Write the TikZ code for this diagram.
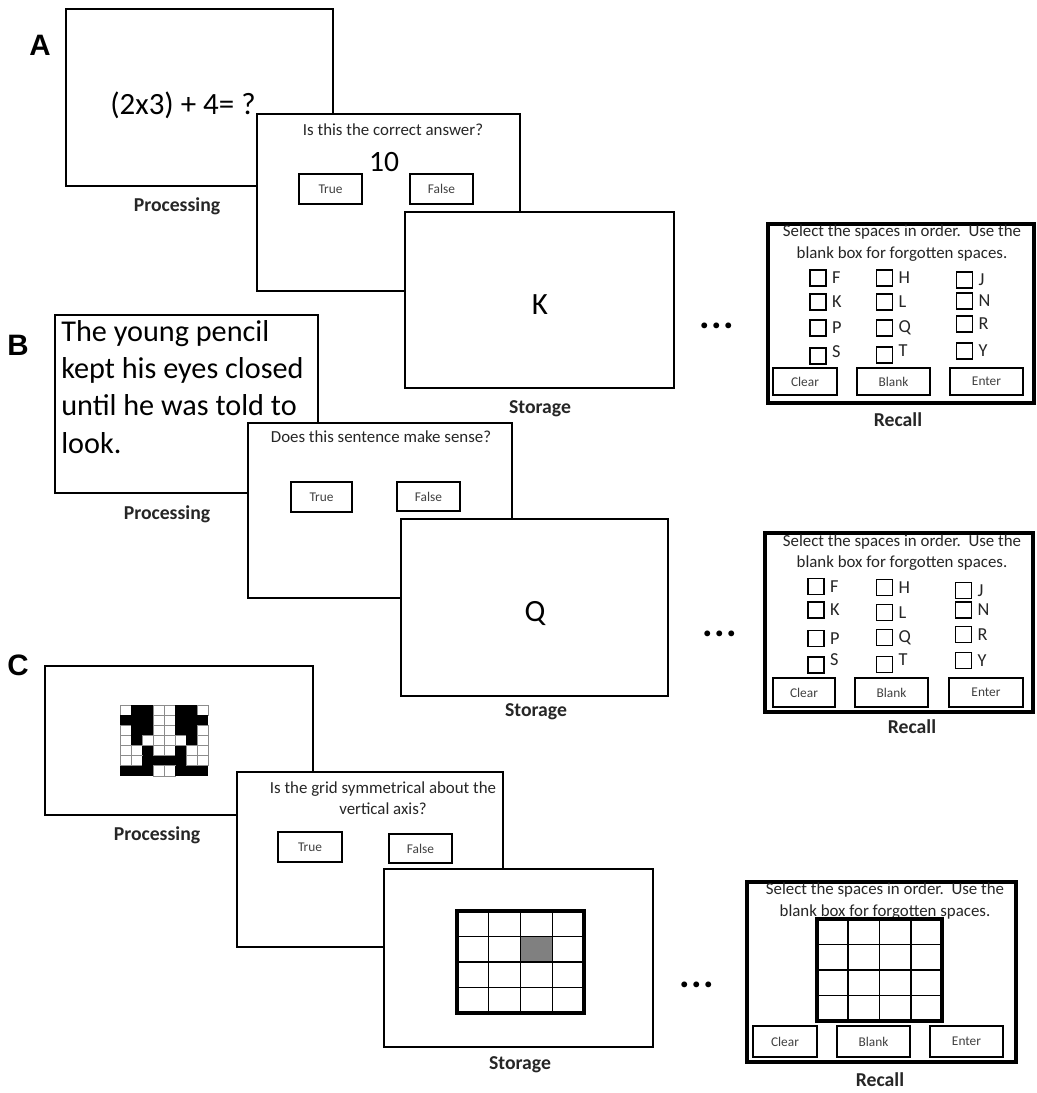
\documentclass[tikz,border=0pt]{standalone}
\usepackage{fontspec}
\setmainfont{Carlito}
\newfontfamily\panelfont{Liberation Sans}
\usetikzlibrary{positioning}
\newcommand{\pxl}{0.025cm}
\tikzset{
  screen/.style 2 args={draw, line width=2pt, fill=white, inner sep=0pt,
    minimum width=#1*\pxl, minimum height=#2*\pxl},
  recallbox/.style 2 args={screen={#1}{#2}, line width=2.6pt},
  button/.style 2 args={draw, line width=1.1pt, fill=white, inner sep=0pt,
    minimum width=#1*\pxl, minimum height=#2*\pxl, text=black!75,
    font=\fontsize{9.5}{11}\selectfont},
  chk/.style={draw, line width=1pt, inner sep=0pt, minimum size=16*\pxl},
  letter/.style={inner sep=0pt, font=\fontsize{13}{15}\selectfont, text=black!85},
  caption/.style={inner sep=0pt, font=\bfseries\fontsize{14}{16}\selectfont, text=black!85},
  prompt/.style={inner sep=0pt, align=center, font=\fontsize{12}{15.5}\selectfont, text=black!85},
  bigtext/.style={inner sep=0pt, font=\fontsize{22}{26}\selectfont},
  panel/.style={inner sep=0pt, font=\panelfont\bfseries\fontsize{21}{24}\selectfont},
  dots/.style={inner sep=0pt, font=\bfseries\fontsize{28}{30}\selectfont},
  cellline/.style={draw=black!45, line width=0.6pt},
}

\begin{document}
\begin{tikzpicture}[x=0.025cm, y=-0.025cm]
  \useasboundingbox (0,0) rectangle (1037,1093);

  % ---------- A: operation span ----------
  \node[panel] (labA) at (40,45) {A};
  \node[screen={267}{177}] (procA) at (199.5,97.5) {};
  \node[bigtext] (eqA) at (183,105) {(2x3) + 4= ?};
  \node[caption] (procLabA) at (177,206) {Processing};

  \node[screen={263}{177}] (qA) at (388.5,202.5) {};
  \node[prompt] (askA) at (393,130) {Is this the correct answer?};
  \node[inner sep=0pt, font=\fontsize{21}{24}\selectfont] (ansA) at (384,162) {10};
  \node[button={63}{30}] (trueA) at (330.5,189) {True};
  \node[button={63}{30}] (falseA) at (441.5,189) {False};

  \node[screen={269}{176}] (storA) at (539.5,300) {};
  \node[bigtext] (itemA) at (540,305) {K};
  \node[caption] (storLabA) at (540,409) {Storage};

  \node[dots] (dotsA) at (717,326) {.\hspace{1pt}.\hspace{1pt}.};

  \node[recallbox={266}{179}] (recA) at (901,313.5) {};
  \node[prompt] (instrA) at (902,243) {Select the spaces in order.\ \ Use the\\blank box for forgotten spaces.};
  \foreach \lt/\x/\y/\dy in {F/818/278/0, K/818/302/0, P/818/328/0, S/818/356/-4,
                             H/884.5/278/0, L/884.5/302/0, Q/884.5/328/0, T/884.5/355/-4,
                             J/964.5/280/0, N/964.5/301/0, R/964.5/324/0, Y/964.5/351/0}
  {
    \node[chk] (chkA\lt) at (\x,\y) {};
    \node[letter, right=0.13cm of chkA\lt, yshift=-\dy*\pxl] (ltrA\lt) {\lt};
  }
  \node[button={64}{27}] (clearA) at (805,381.5) {Clear};
  \node[button={73}{27}] (blankA) at (893.5,381.5) {Blank};
  \node[button={73}{27}] (enterA) at (986.5,381.5) {Enter};
  \node[caption] (recLabA) at (898,420) {Recall};

  % ---------- B: reading span ----------
  \node[panel] (labB) at (18,345) {B};
  \node[screen={263}{178}] (procB) at (186.5,404) {};
  \node[anchor=north west, align=left, inner sep=0pt,
        font=\fontsize{21.5}{26.5}\selectfont] (sentB) at (61,320)
        {The young pencil\\kept his eyes closed\\until he was told to\\look.};
  \node[caption] (procLabB) at (167,514) {Processing};

  \node[screen={264}{175}] (qB) at (380,510.5) {};
  \node[prompt] (askB) at (381,437) {Does this sentence make sense?};
  \node[button={61}{30}] (trueB) at (321.5,497) {True};
  \node[button={63}{29}] (falseB) at (428.5,496.5) {False};

  \node[screen={267}{177}] (storB) at (534.5,607.5) {};
  \node[bigtext] (itemB) at (535,613) {Q};
  \node[caption] (storLabB) at (536,712) {Storage};

  \node[dots] (dotsB) at (720,634) {.\hspace{1pt}.\hspace{1pt}.};

  \node[recallbox={268}{179}] (recB) at (899,622.5) {};
  \node[prompt] (instrB) at (902,552.5) {Select the spaces in order.\ \ Use the\\blank box for forgotten spaces.};
  \foreach \lt/\x/\y/\dy in {F/816/586.5/0, K/816/610/0, P/816/638.5/0, S/816/665/-5,
                             H/884.5/587.5/0, L/884.5/612.5/0, Q/884.5/637.5/0, T/884.5/664.5/-5,
                             J/963.5/590.5/0, N/963.5/610/0, R/963.5/634.5/0, Y/963.5/660.5/0}
  {
    \node[chk] (chkB\lt) at (\x,\y) {};
    \node[letter, right=0.13cm of chkB\lt, yshift=-\dy*\pxl] (ltrB\lt) {\lt};
  }
  \node[button={62}{29}] (clearB) at (804,692.5) {Clear};
  \node[button={73}{29}] (blankB) at (891.5,692.5) {Blank};
  \node[button={74}{29}] (enterB) at (986,692.5) {Enter};
  \node[caption] (recLabB) at (912,727) {Recall};

  % ---------- C: symmetry span ----------
  \node[panel] (labC) at (18,665) {C};
  \node[screen={268}{149}] (procC) at (179,740.5) {};
  \foreach \cells [count=\r] in {{0,1,1,0,0,1,1,0},{1,1,1,0,0,1,1,1},
                                 {0,1,1,0,0,1,1,0},{0,1,0,0,0,0,1,0},
                                 {0,0,1,0,0,1,0,0},{0,0,1,1,1,1,0,0},
                                 {1,1,1,0,0,1,1,1}}
  {
    \foreach \v [count=\k] in \cells
    {
      \ifnum\v=1
        \fill (109+\k*11, 694.86+\r*10.14) rectangle ++(11,10.14);
      \else
        \draw[cellline] (109+\k*11, 694.86+\r*10.14) rectangle ++(11,10.14);
      \fi
    }
  }
  \node[caption] (procLabC) at (157,835) {Processing};

  \node[screen={266}{175}] (qC) at (370,859.5) {};
  \node[prompt, font=\fontsize{12}{14.5}\selectfont] (askC) at (383,798)
        {Is the grid symmetrical about the\\vertical axis?};
  \node[button={64}{30}] (trueC) at (310,847) {True};
  \node[button={63}{29}] (falseC) at (420.5,848.5) {False};

  \node[screen={269}{178}] (storC) at (518.5,958) {};
  % storage grid, one cell shaded
  \fill[black!50] (520.5,936.5) rectangle (552.25,962);
  \foreach \i in {1,2,3}
  {
    \draw[line width=1pt] (457+\i*31.75,911) -- (457+\i*31.75,1013);
    \draw[line width=1pt] (457,911+\i*25.5) -- (584,911+\i*25.5);
  }
  \draw[line width=2.2pt] (457,911) rectangle (584,1013);
  \node[caption] (storLabC) at (520,1065) {Storage};

  \node[dots] (dotsC) at (697,985) {.\hspace{1pt}.\hspace{1pt}.};

  \node[recallbox={269}{180}] (recC) at (881.5,972) {};
  \node[prompt] (instrC) at (885,901) {Select the spaces in order.\ \ Use the\\blank box for forgotten spaces.};
  \foreach \i in {1,2,3}
  {
    \draw[line width=1.3pt] (817+\i*31.25,919) -- (817+\i*31.25,1021);
    \draw[line width=1.3pt] (817,919+\i*25.5) -- (942,919+\i*25.5);
  }
  \draw[line width=2.4pt] (817,919) rectangle (942,1021);
  \node[button={64}{31}] (clearC) at (785,1041.5) {Clear};
  \node[button={73}{31}] (blankC) at (873.5,1041.5) {Blank};
  \node[button={73}{31}] (enterC) at (966.5,1041.5) {Enter};
  \node[caption] (recLabC) at (880,1080) {Recall};
\end{tikzpicture}
\end{document}
